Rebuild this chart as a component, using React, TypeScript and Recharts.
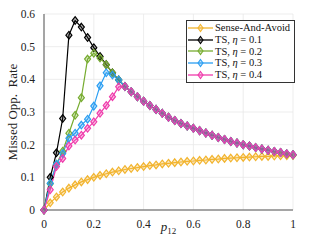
import React from "react";
import { LineChart, Line, XAxis, YAxis, CartesianGrid } from "recharts";

const p12 = [
  0, 0.025, 0.05, 0.075, 0.1, 0.125, 0.15, 0.175, 0.2, 0.225, 0.25, 0.275, 0.3, 0.325, 0.35, 0.375,
  0.4, 0.425, 0.45, 0.475, 0.5, 0.525, 0.55, 0.575, 0.6, 0.625, 0.65, 0.675, 0.7, 0.725, 0.75,
  0.775, 0.8, 0.825, 0.85, 0.875, 0.9, 0.925, 0.95, 0.975, 1,
];

const senseAndAvoid = [
  0, 0.022, 0.04, 0.055, 0.067, 0.077, 0.086, 0.093, 0.1, 0.106, 0.111, 0.116, 0.12, 0.124, 0.127,
  0.13, 0.133, 0.136, 0.138, 0.141, 0.143, 0.145, 0.147, 0.149, 0.15, 0.152, 0.153, 0.155, 0.156,
  0.158, 0.159, 0.16, 0.161, 0.162, 0.163, 0.164, 0.164, 0.165, 0.166, 0.166, 0.167,
];

// shared descending part, p12 = 0.25 .. 1
const tsTail = [
  0.445, 0.42, 0.398, 0.378, 0.362, 0.347, 0.333, 0.32, 0.308, 0.296, 0.284, 0.274, 0.265, 0.257,
  0.25, 0.243, 0.236, 0.229, 0.222, 0.216, 0.21, 0.205, 0.2, 0.196, 0.191, 0.187, 0.183, 0.179,
  0.176, 0.172, 0.169,
];

const ts01Head = [0, 0.1, 0.175, 0.28, 0.535, 0.58, 0.56, 0.528, 0.497, 0.47];
const ts02Head = [0, 0.08, 0.14, 0.18, 0.235, 0.29, 0.344, 0.462, 0.48, 0.465];
const ts03Head = [0, 0.082, 0.14, 0.173, 0.22, 0.235, 0.26, 0.278, 0.318, 0.38, 0.42, 0.413];
const ts04Head = [0, 0.062, 0.133, 0.158, 0.196, 0.214, 0.229, 0.25, 0.27, 0.296, 0.32, 0.347, 0.377, 0.378];

const ts01 = [...ts01Head, ...tsTail];
const ts02 = [...ts02Head, ...tsTail];
const ts03 = [...ts03Head, ...tsTail.slice(2)];
const ts04 = [...ts04Head, ...tsTail.slice(4)];

const xTicks = [0, 0.2, 0.4, 0.6, 0.8, 1];
const yTicks = [0, 0.1, 0.2, 0.3, 0.4, 0.5, 0.6];

const series = [
  { key: "saa", label: "Sense-And-Avoid", eta: "", color: "#F2B42E" },
  { key: "ts01", label: "TS, ", eta: "0.1", color: "#000000" },
  { key: "ts02", label: "TS, ", eta: "0.2", color: "#77AC30" },
  { key: "ts03", label: "TS, ", eta: "0.3", color: "#2B9EF2" },
  { key: "ts04", label: "TS, ", eta: "0.4", color: "#F03CAC" },
];

const data = p12.map((p, i) => ({
  p,
  saa: senseAndAvoid[i],
  ts01: ts01[i],
  ts02: ts02[i],
  ts03: ts03[i],
  ts04: ts04[i],
}));

const font = "Liberation Serif";

const Diamond = (color: string) => (props: any) => {
  const { cx, cy, index } = props;
  if (cx == null || cy == null) return <g key={index} />;
  return (
    <path
      key={index}
      d={`M${cx},${cy - 3.8} L${cx + 3},${cy} L${cx},${cy + 3.8} L${cx - 3},${cy} Z`}
      fill={color}
      fillOpacity={0.3}
      stroke={color}
      strokeWidth={1.2}
    />
  );
};

const XTick = (props: any) => {
  const { x, y, payload } = props;
  return (
    <text x={x} y={y} dy={9} textAnchor="middle" fontFamily={font} fontSize={11.5} fill="#222">
      {String(payload.value)}
    </text>
  );
};

const YTick = (props: any) => {
  const { x, y, payload } = props;
  return (
    <text x={x} y={y} dy={4} textAnchor="end" fontFamily={font} fontSize={11.5} fill="#222">
      {String(payload.value)}
    </text>
  );
};

const XLabel = (props: any) => {
  const { viewBox } = props;
  const x = viewBox.x + viewBox.width / 2;
  return (
    <text x={x} y={231} textAnchor="middle" fontFamily={font} fill="#222">
      <tspan fontSize={13} fontStyle="italic">p</tspan>
      <tspan fontSize={9} dy={3}>12</tspan>
    </text>
  );
};

const YLabel = (props: any) => {
  const { viewBox } = props;
  const cy = viewBox.y + viewBox.height / 2;
  return (
    <text
      x={17}
      y={cy}
      transform={`rotate(-90, 17, ${cy})`}
      textAnchor="middle"
      fontFamily={font}
      fontSize={13}
      fill="#222"
      style={{ whiteSpace: "pre" }}
    >
      Missed Opp.  Rate
    </text>
  );
};

const LegendBox = () => (
  <div
    style={{
      position: "absolute",
      left: 186,
      top: 20,
      width: 104,
      border: "1px solid #333",
      background: "#fff",
      fontFamily: font,
      fontSize: 10.5,
      padding: "1px 2px 1px 1px",
      lineHeight: "11.8px",
      color: "#111",
    }}
  >
    {series.map((s) => (
      <div key={s.key} style={{ display: "flex", alignItems: "center", whiteSpace: "nowrap" }}>
        <svg width={25} height={10} style={{ marginRight: 2 }}>
          <line x1={0} y1={5} x2={25} y2={5} stroke={s.color} strokeWidth={1.3} />
          <path d="M12.5,1.5 L15,5 L12.5,8.5 L10,5 Z" fill={s.color} fillOpacity={0.3} stroke={s.color} strokeWidth={1.1} />
        </svg>
        <span>
          {s.label}
          {s.eta && (
            <>
              <i>η</i> = {s.eta}
            </>
          )}
        </span>
      </div>
    ))}
  </div>
);

export default function App() {
  return (
    <div style={{ position: "absolute", left: 0, top: 0, width: 321, height: 241, background: "#fff", fontFamily: font }}>
      <LineChart width={321} height={241} data={data} margin={{ top: 14, right: 28, left: 0, bottom: 0 }}>
        <CartesianGrid stroke="#e8e8e8" strokeWidth={0.8} />
        <XAxis
          dataKey="p"
          type="number"
          domain={[0, 1]}
          ticks={xTicks}
          tickLine={false}
          axisLine={{ stroke: "#555" }}
          tick={<XTick />}
          tickMargin={3}
          height={31}
          label={<XLabel />}
        />
        <XAxis xAxisId="top" orientation="top" type="number" domain={[0, 1]} tick={false} tickLine={false} axisLine={{ stroke: "#555" }} height={0} />
        <YAxis
          type="number"
          domain={[0, 0.6]}
          ticks={yTicks}
          tickLine={false}
          axisLine={{ stroke: "#555" }}
          tick={<YTick />}
          tickMargin={3}
          width={44}
          label={<YLabel />}
        />
        <YAxis yAxisId="right" orientation="right" domain={[0, 0.6]} tick={false} tickLine={false} axisLine={{ stroke: "#555" }} width={0} />
        {series.map((s) => (
          <Line
            key={s.key}
            dataKey={s.key}
            stroke={s.color}
            strokeWidth={1.2}
            dot={Diamond(s.color)}
            isAnimationActive={false}
          />
        ))}
      </LineChart>
      <LegendBox />
    </div>
  );
}
